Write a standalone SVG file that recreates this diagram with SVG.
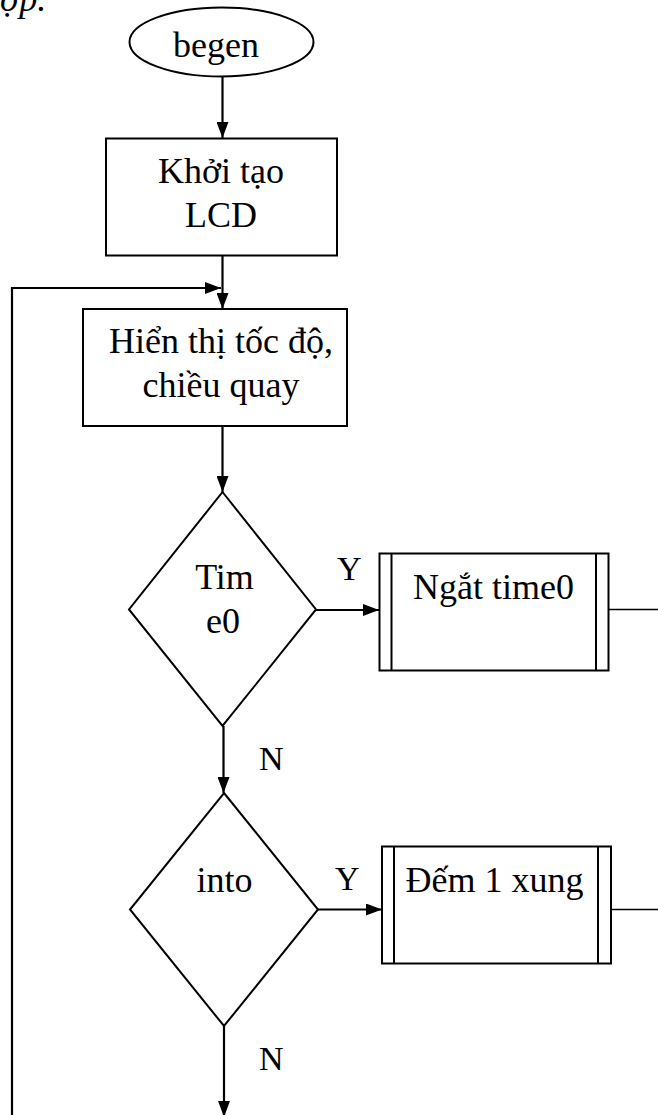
<svg xmlns="http://www.w3.org/2000/svg" width="658" height="1115" viewBox="0 0 658 1115">
<style>
text{font-family:"Liberation Serif","Times New Roman",serif;font-size:36px;fill:#000}
.m{text-anchor:middle}
.lbl{font-size:34px}
.shape{fill:#fff;stroke:#000;stroke-width:2}
.conn{fill:none;stroke:#000;stroke-width:2.2}
.thin{fill:none;stroke:#000;stroke-width:1.6}
</style>
<defs>
<marker id="arr" viewBox="0 0 16 12" refX="16" refY="6" markerWidth="16" markerHeight="12" markerUnits="userSpaceOnUse" orient="auto">
<path d="M0,0 L16,6 L0,12 Z" fill="#000"/>
</marker>
</defs>
<text x="0" y="11" font-style="italic">ợp.</text>
<g id="connectors">
<line class="conn" x1="222.5" y1="77" x2="222.5" y2="138" marker-end="url(#arr)"/>
<line class="conn" x1="222.5" y1="255" x2="222.5" y2="309" marker-end="url(#arr)"/>
<polyline class="conn" points="12,1115 12,288 221,288" marker-end="url(#arr)"/>
<line class="conn" x1="222.5" y1="426" x2="222.5" y2="492" marker-end="url(#arr)"/>
<line class="conn" x1="316" y1="610" x2="379" y2="610" marker-end="url(#arr)"/>
<line class="thin" x1="609" y1="609.5" x2="658" y2="609.5"/>
<line class="conn" x1="223.5" y1="726" x2="223.5" y2="793" marker-end="url(#arr)"/>
<line class="conn" x1="318" y1="909.5" x2="382" y2="909.5" marker-end="url(#arr)"/>
<line class="thin" x1="611" y1="909.5" x2="658" y2="909.5"/>
<line class="conn" x1="224" y1="1026" x2="224" y2="1117" marker-end="url(#arr)"/>
</g>
<g id="begen">
<ellipse class="shape" cx="221.5" cy="42" rx="92" ry="34.5"/>
<text class="m" x="216" y="57">begen</text>
</g>
<g id="khoi-tao">
<rect class="shape" x="106" y="138.5" width="231" height="117"/>
<text class="m" x="221" y="183">Khởi tạo</text>
<text class="m" x="221" y="227">LCD</text>
</g>
<g id="hien-thi">
<rect class="shape" x="83" y="309" width="264" height="117"/>
<text class="m" x="221" y="353">Hiển thị tốc độ,</text>
<text class="m" x="221" y="397">chiều quay</text>
</g>
<g id="timer0">
<polygon class="shape" points="222.5,492 316,609.5 222.5,726 129,609.5"/>
<text class="m" x="224.5" y="589">Tim</text>
<text class="m" x="223" y="633">e0</text>
</g>
<g id="ngat-time0">
<rect class="shape" x="379.5" y="553.5" width="229" height="117"/>
<line class="shape" x1="391.5" y1="553.5" x2="391.5" y2="670.5"/>
<line class="shape" x1="596" y1="553.5" x2="596" y2="670.5"/>
<text class="m" x="493.5" y="599">Ngắt time0</text>
</g>
<g id="into">
<polygon class="shape" points="224,793 318,909.5 224,1026 130,909.5"/>
<text class="m" x="224.5" y="892">into</text>
</g>
<g id="dem-xung">
<rect class="shape" x="382" y="846.5" width="229" height="117"/>
<line class="shape" x1="394" y1="846.5" x2="394" y2="963.5"/>
<line class="shape" x1="598" y1="846.5" x2="598" y2="963.5"/>
<text class="m" x="494.5" y="892">Đếm 1 xung</text>
</g>
<g id="labels">
<text class="lbl" x="337" y="580">Y</text>
<text class="lbl" x="335" y="890">Y</text>
<text class="lbl" x="259" y="770">N</text>
<text class="lbl" x="259" y="1070">N</text>
</g>
</svg>
